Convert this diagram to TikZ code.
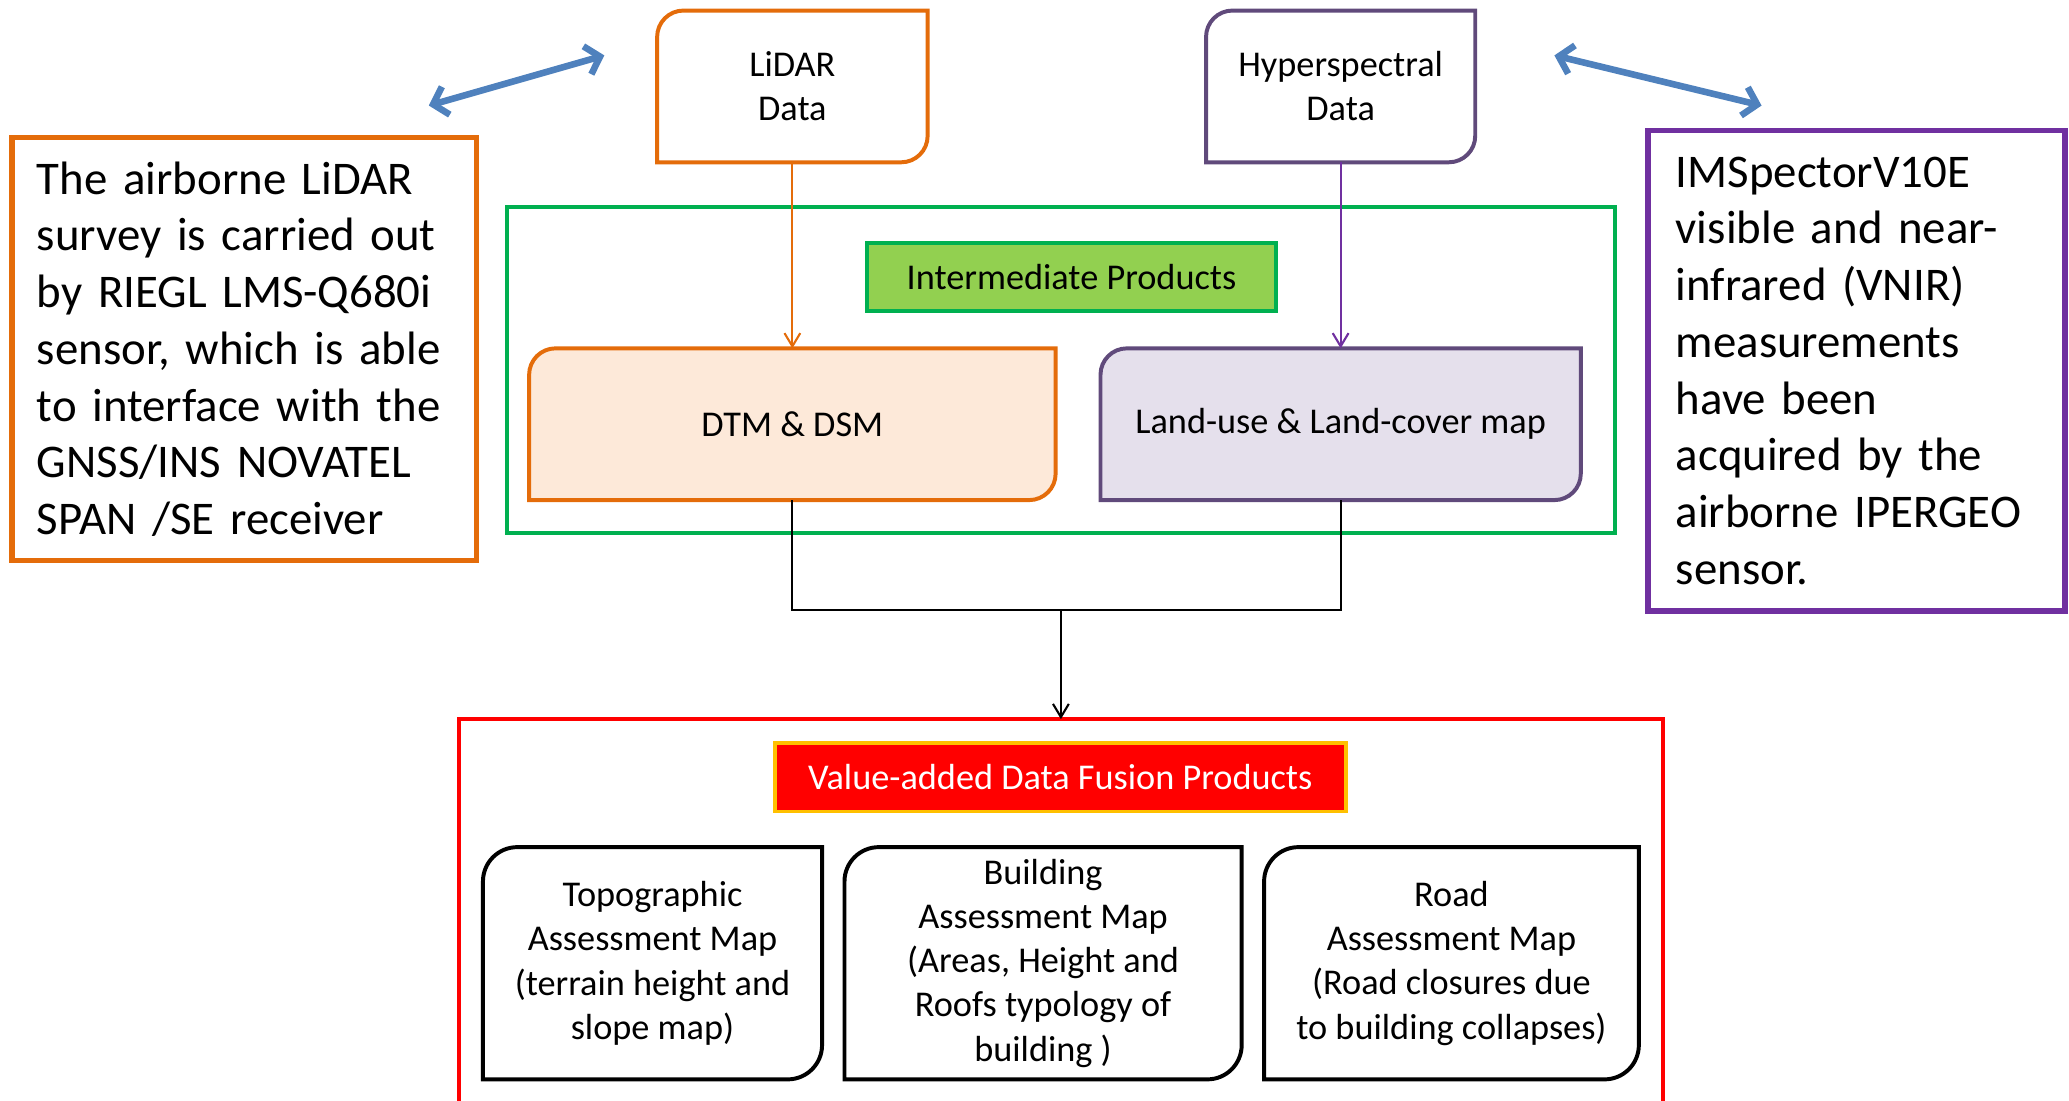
\documentclass[tikz,border=0pt]{standalone}
\usepackage{fontspec}
\setmainfont{Carlito}
\usetikzlibrary{arrows.meta,backgrounds}
\definecolor{lidarorange}{HTML}{E46C0A}
\definecolor{dtmfill}{HTML}{FDE9D9}
\definecolor{hyperpurple}{HTML}{604A7B}
\definecolor{notepurple}{HTML}{7030A0}
\definecolor{landfill}{HTML}{E5E0EC}
\definecolor{framegreen}{HTML}{00B050}
\definecolor{taggreen}{HTML}{92D050}
\definecolor{taggold}{HTML}{FFC000}
\definecolor{linkblue}{HTML}{4F81BD}
\begin{document}
\begin{tikzpicture}[x=1pt, y=1pt,
  boxtext/.style={font=\fontsize{27.5}{33.5}\selectfont, align=center, inner sep=0pt, outer sep=0pt},
  notetext/.style={font=\fontsize{35.5}{43}\selectfont, align=left, draw, line width=4pt, inner ysep=0pt, outer sep=0pt},
  groupframe/.style={draw, line width=3pt, inner sep=0pt, outer sep=0pt},
  tagbox/.style={boxtext, draw, line width=3pt},
  feedarrow/.style={line width=1.6pt, -{Straight Barb[length=10pt,width=12pt]}},
  sensorlink/.style={linkblue, line width=5pt, {Straight Barb[length=10pt,width=22pt]}-{Straight Barb[length=10pt,width=22pt]}}]
  \path[use as bounding box, clip] (0,0) rectangle (1568,-834);
  % data sources
  \node[boxtext, minimum width=205pt, minimum height=115pt] (lidar) at (600.5,-65.5) {LiDAR\\Data};
  \node[boxtext, minimum width=204pt, minimum height=115pt] (hyper) at (1016,-65.5) {Hyperspectral\\Data};
  % sensor notes
  \node[notetext, draw=lidarorange, text width=314pt, inner xsep=19pt, minimum height=321pt] (lidarnote) at (185,-264.5)
    {The airborne LiDAR\\survey is carried out\\by RIEGL LMS-Q680i\\sensor, which is able\\to interface with the\\GNSS/INS NOVATEL\\SPAN /SE receiver};
  \node[notetext, draw=notepurple, text width=274pt, inner xsep=21pt, minimum height=364pt] (hypernote) at (1407,-281)
    {IMSpectorV10E\\visible and near-\\infrared (VNIR)\\measurements\\have been\\acquired by the\\airborne IPERGEO\\sensor.};
  \coordinate (lidarlinkA) at (325,-80);
  \coordinate (lidarlinkB) at (458,-42);
  \coordinate (hyperlinkA) at (1178,-42);
  \coordinate (hyperlinkB) at (1335,-80);
  \draw[sensorlink] (lidarlinkA) -- (lidarlinkB);
  \draw[sensorlink] (hyperlinkA) -- (hyperlinkB);
  % intermediate products
  \node[groupframe, draw=framegreen, minimum width=840pt, minimum height=247pt] (inter) at (804,-280.5) {};
  \node[tagbox, draw=framegreen, fill=taggreen, minimum width=310pt, minimum height=52pt] (intertag) at (812,-210) {Intermediate Products};
  \node[boxtext, minimum width=399pt, minimum height=115pt] (dtm) at (600.5,-321.5) {DTM \& DSM};
  \node[boxtext, minimum width=364pt, minimum height=115pt] (landuse) at (1016,-321.5) {Land-use \& Land-cover map};
  % fusion products
  \node[groupframe, draw=red, minimum width=912pt, minimum height=320pt, anchor=north] (fusion) at (804,-545) {};
  \node[tagbox, draw=taggold, fill=red, text=white, minimum width=433pt, minimum height=52pt] (fusiontag) at (803.5,-589) {Value-added Data Fusion Products};
  \node[boxtext, minimum width=257pt, minimum height=176pt] (topo) at (494.5,-730) {Topographic\\Assessment Map\\(terrain height and\\slope map)};
  \node[boxtext, minimum width=301pt, minimum height=176pt] (build) at (790.5,-730) {Building\\Assessment Map\\(Areas, Height and\\Roofs typology of\\building )};
  \node[boxtext, minimum width=284pt, minimum height=176pt] (road) at (1100,-730) {Road\\Assessment Map\\(Road closures due\\to building collapses)};
  % box outlines, round top-left and bottom-right
  \begin{scope}[on background layer]
    \foreach \n/\c/\f/\r in {lidar/lidarorange/white/20pt, hyper/hyperpurple/white/20pt,
        dtm/lidarorange/dtmfill/20pt, landuse/hyperpurple/landfill/20pt,
        topo/black/white/26pt, build/black/white/26pt, road/black/white/26pt}
      \filldraw[draw=\c, fill=\f, line width=3pt] ([xshift=\r]\n.north west) -- (\n.north east)
        -- ([yshift=\r]\n.south east) arc[start angle=0, end angle=-90, radius=\r]
        -- (\n.south west) -- ([yshift=-\r]\n.north west) arc[start angle=180, end angle=90, radius=\r] -- cycle;
  \end{scope}
  % --- wiring ---
  \draw[feedarrow, lidarorange] (lidar) -- (dtm);
  \draw[feedarrow, notepurple] (hyper) -- (landuse);
  \coordinate (merge) at (804,-462);
  \draw[line width=1.6pt] (dtm.south) |- (merge) -| (landuse.south);
  \draw[feedarrow] (merge) -- (fusion.north);
\end{tikzpicture}
\end{document}
